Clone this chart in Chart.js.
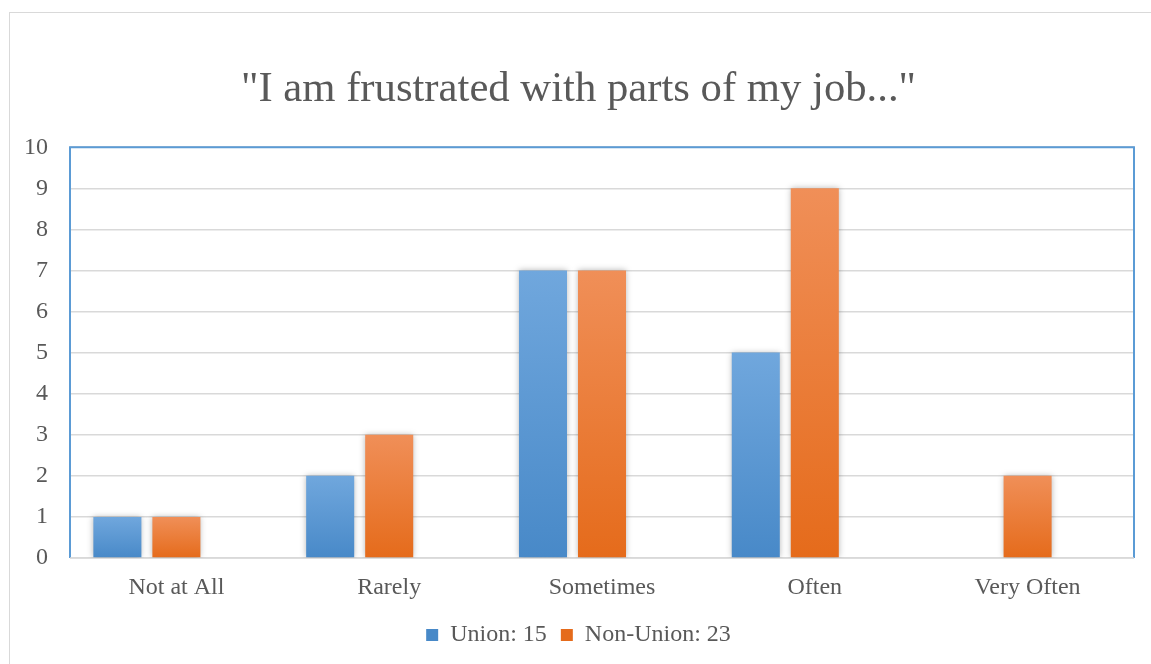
<!DOCTYPE html>
<html lang="en">
<head>
  <meta charset="UTF-8">
  <title>"I am frustrated with parts of my job..."</title>
  <script src="https://cdn.jsdelivr.net/npm/chart.js"></script>
  <style>
    html, body { margin: 0; padding: 0; background: #fff; overflow: hidden; }
    .frame {
      position: absolute; left: 9px; top: 12px; width: 1200px; height: 700px;
      border-left: 1px solid #d9d9d9; border-top: 1px solid #d9d9d9;
    }
    #wrap { position: absolute; left: 0; top: 0; width: 1151px; height: 664px; }
  </style>
</head>
<body>
  <div class="frame"></div>
  <div id="wrap"><canvas id="jobChart"></canvas></div>

  <script>
    // data
    const categories = ['Not at All', 'Rarely', 'Sometimes', 'Often', 'Very Often'];
    const unionValues = [1, 2, 7, 5, 0];
    const nonUnionValues = [1, 3, 7, 9, 2];
    const seriesLabels = ['Union: 15', 'Non-Union: 23'];
    const yTicks = [0, 1, 2, 3, 4, 5, 6, 7, 8, 9, 10];

    const textColor = '#595959';
    const fontFamily = '"Liberation Serif", "Times New Roman", serif';

    // gradient over each bar, light on top and darker at the base
    function barGradient(top, bottom) {
      return function (context) {
        const chart = context.chart;
        const y = chart.scales.y;
        if (!chart.chartArea || !y || context.parsed == null) return bottom;
        const base = y.getPixelForValue(0);
        const tip = y.getPixelForValue(context.parsed.y);
        if (!(base - tip > 0)) return bottom;
        const g = chart.ctx.createLinearGradient(0, tip, 0, base);
        g.addColorStop(0, top);
        g.addColorStop(1, bottom);
        return g;
      };
    }

    // blue plot-area frame like the spreadsheet original
    const plotFrame = {
      id: 'plotFrame',
      beforeDatasetsDraw(chart) {
        const { ctx, chartArea: a } = chart;
        ctx.save();
        ctx.strokeStyle = '#5b9bd5';
        ctx.lineWidth = 2;
        ctx.beginPath();
        ctx.moveTo(a.left, a.bottom);
        ctx.lineTo(a.left, a.top);
        ctx.lineTo(a.right, a.top);
        ctx.lineTo(a.right, a.bottom);
        ctx.stroke();
        ctx.strokeStyle = '#d9d9d9';
        ctx.lineWidth = 1.5;
        ctx.beginPath();
        ctx.moveTo(a.left, a.bottom);
        ctx.lineTo(a.right, a.bottom);
        ctx.stroke();
        ctx.restore();
        // soft shadow under the bars
        ctx.save();
        ctx.shadowColor = 'rgba(0, 0, 0, 0.28)';
        ctx.shadowBlur = 6;
        ctx.shadowOffsetX = 0;
        ctx.shadowOffsetY = 0;
      },
      afterDatasetsDraw(chart) {
        chart.ctx.restore();
      }
    };

    const ctx = document.getElementById('jobChart').getContext('2d');
    new Chart(ctx, {
      type: 'bar',
      data: {
        labels: categories,
        datasets: [
          {
            label: seriesLabels[0],
            data: unionValues,
            backgroundColor: barGradient('#70a7dd', '#4889c8')
          },
          {
            label: seriesLabels[1],
            data: nonUnionValues,
            backgroundColor: barGradient('#f08f58', '#e56b1b')
          },
          {
            // empty third slot kept by the original chart
            label: '',
            data: categories.map(() => null),
            backgroundColor: 'rgba(0,0,0,0)'
          }
        ]
      },
      options: {
        responsive: true,
        maintainAspectRatio: false,
        animation: false,
        categoryPercentage: 0.832,
        barPercentage: 0.814,
        layout: { padding: { left: 23, right: 17, top: 0, bottom: 7 } },
        plugins: {
          title: {
            display: true,
            text: '"I am frustrated with parts of my job..."',
            color: textColor,
            font: { family: fontFamily, size: 42.7, weight: 'normal', lineHeight: 1.2 },
            padding: { top: 64, bottom: 32 }
          },
          legend: {
            position: 'bottom',
            labels: {
              color: textColor,
              font: { family: fontFamily, size: 24 },
              boxWidth: 12,
              boxHeight: 12,
              padding: 14,
              filter: (item) => item.text !== ''
            }
          },
          tooltip: { enabled: false }
        },
        scales: {
          x: {
            grid: { display: false, drawTicks: false },
            border: { display: false },
            afterFit: (scale) => { scale.height = 51; },
            ticks: {
              color: textColor,
              font: { family: fontFamily, size: 24 },
              padding: 15
            }
          },
          y: {
            min: 0,
            max: 10,
            afterBuildTicks: (scale) => { scale.ticks = yTicks.map(v => ({ value: v })); },
            afterFit: (scale) => { scale.width = 47; },
            grid: { color: '#d9d9d9', lineWidth: 1.5, drawTicks: false },
            border: { display: false },
            ticks: {
              color: textColor,
              font: { family: fontFamily, size: 24 },
              padding: 22
            }
          }
        }
      },
      plugins: [plotFrame]
    });
  </script>
</body>
</html>
